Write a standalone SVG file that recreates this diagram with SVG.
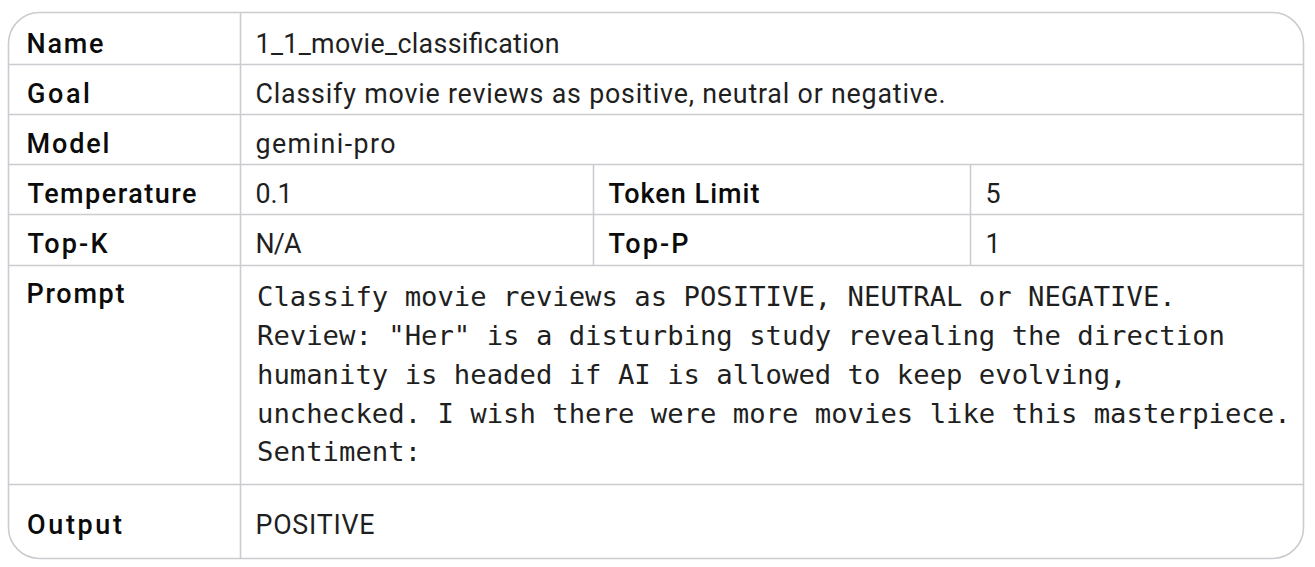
<svg xmlns="http://www.w3.org/2000/svg" width="1315" height="567" viewBox="0 0 1315 567">
<style>
.grid{stroke:#c9ccd0;stroke-width:1.6;fill:none}
.lbl{font-family:Roboto,"Noto Sans",sans-serif;font-size:27px;font-weight:500;fill:#0b0b0b}
.val{font-family:Roboto,"Noto Sans",sans-serif;font-size:26.8px;font-weight:400;fill:#1f1f1f}
.mono{font-family:"DejaVu Sans Mono","Liberation Mono",monospace;font-size:27.25px;fill:#1f1f1f}
</style>
<rect width="1315" height="567" fill="#ffffff"/>
<g id="table-grid">
<rect class="grid" x="8.5" y="12.5" width="1295" height="546" rx="31" ry="31"/>
<line class="grid" x1="240.5" y1="13" x2="240.5" y2="558"/>
<line class="grid" x1="9" y1="64.5" x2="1303" y2="64.5"/>
<line class="grid" x1="9" y1="114.5" x2="1303" y2="114.5"/>
<line class="grid" x1="9" y1="164.5" x2="1303" y2="164.5"/>
<line class="grid" x1="9" y1="214.5" x2="1303" y2="214.5"/>
<line class="grid" x1="9" y1="265.5" x2="1303" y2="265.5"/>
<line class="grid" x1="9" y1="484.5" x2="1303" y2="484.5"/>
<line class="grid" x1="593.5" y1="165" x2="593.5" y2="265"/>
<line class="grid" x1="970.5" y1="165" x2="970.5" y2="265"/>
</g>
<g id="row-name"><text class="lbl" x="26.5" y="53" textLength="77" lengthAdjust="spacing">Name</text><text class="val" x="255.5" y="53" textLength="304" lengthAdjust="spacing">1_1_movie_classification</text></g>
<g id="row-goal"><text class="lbl" x="27" y="103" textLength="63" lengthAdjust="spacing">Goal</text><text class="val" x="255.5" y="103" textLength="690" lengthAdjust="spacing">Classify movie reviews as positive, neutral or negative.</text></g>
<g id="row-model"><text class="lbl" x="26.5" y="153" textLength="83" lengthAdjust="spacing">Model</text><text class="val" x="255.5" y="153" textLength="140" lengthAdjust="spacing">gemini-pro</text></g>
<g id="row-temperature"><text class="lbl" x="27.5" y="203" textLength="169" lengthAdjust="spacing">Temperature</text><text class="val" x="255.5" y="203" textLength="37" lengthAdjust="spacing">0.1</text><text class="lbl" x="608.5" y="203" textLength="151" lengthAdjust="spacing">Token Limit</text><text class="val" x="985.5" y="203">5</text></g>
<g id="row-topk"><text class="lbl" x="27.5" y="253" textLength="80" lengthAdjust="spacing">Top-K</text><text class="val" x="255.5" y="253" textLength="46" lengthAdjust="spacing">N/A</text><text class="lbl" x="608.5" y="253" textLength="80" lengthAdjust="spacing">Top-P</text><text class="val" x="985.5" y="253">1</text></g>
<g id="row-prompt"><text class="lbl" x="26.5" y="303" textLength="98" lengthAdjust="spacing">Prompt</text>
<text class="mono" x="257" y="306">Classify movie reviews as POSITIVE, NEUTRAL or NEGATIVE.</text>
<text class="mono" x="257" y="345">Review: "Her" is a disturbing study revealing the direction</text>
<text class="mono" x="257" y="383.5">humanity is headed if AI is allowed to keep evolving,</text>
<text class="mono" x="257" y="422.5">unchecked. I wish there were more movies like this masterpiece.</text>
<text class="mono" x="257" y="461">Sentiment:</text>
</g>
<g id="row-output"><text class="lbl" x="27" y="533.5" textLength="95" lengthAdjust="spacing">Output</text><text class="val" x="255.5" y="533.5" textLength="119" lengthAdjust="spacing">POSITIVE</text></g>
</svg>
